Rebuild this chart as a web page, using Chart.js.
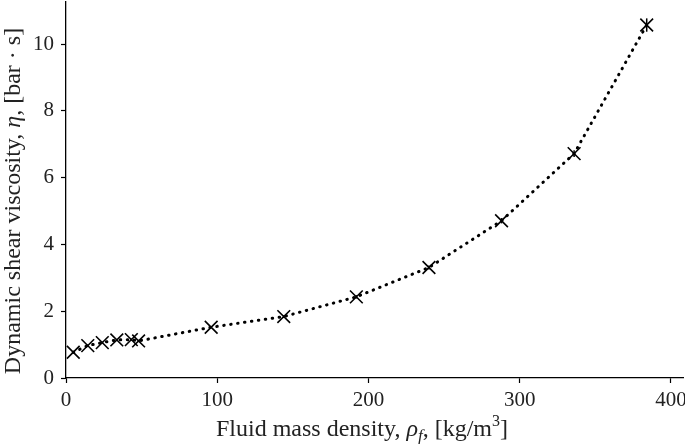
<!DOCTYPE html>
<html>
<head>
<meta charset="utf-8">
<script src="https://cdn.jsdelivr.net/npm/chart.js@4.4.1/dist/chart.umd.min.js"></script>
<style>
  html, body { margin: 0; padding: 0; background: #fff; }
  #wrap { width: 685px; height: 444px; }
</style>
</head>
<body>
<div id="wrap"><canvas id="viscChart" width="685" height="444"></canvas></div>
<script>
// fluid mass density [kg/m^3]
const density = [4.8, 14.4, 24, 33.6, 43.2, 48, 96, 144, 192, 240, 288, 336, 384];
// dynamic shear viscosity [bar*s]
const viscosity = [0.77, 0.97, 1.06, 1.14, 1.15, 1.11, 1.52, 1.84, 2.43, 3.31, 4.71, 6.72, 10.57];
// error bar half-widths
const viscErr = [0.03, 0.03, 0.03, 0.03, 0.03, 0.03, 0.03, 0.04, 0.05, 0.06, 0.08, 0.1, 0.2];

const xTicks = [0, 100, 200, 300, 400];
const yTicks = [0, 2, 4, 6, 8, 10];

const SERIF = "'Liberation Serif', 'DejaVu Serif', serif";

// draws small vertical error bars at each point
const errorBars = {
    id: "errorBars",
    afterDatasetsDraw(chart) {
        const ctx = chart.ctx;
        const xs = chart.scales.x, ys = chart.scales.y;
        ctx.save();
        ctx.strokeStyle = "#000";
        ctx.lineWidth = 1.5;
        density.forEach((d, i) => {
            const px = xs.getPixelForValue(d);
            ctx.beginPath();
            ctx.moveTo(px, ys.getPixelForValue(viscosity[i] - viscErr[i]));
            ctx.lineTo(px, ys.getPixelForValue(viscosity[i] + viscErr[i]));
            ctx.stroke();
        });
        ctx.restore();
    }
};

// axis titles with italic symbols and subscripts
function drawParts(ctx, parts, x, y) {
    let total = 0;
    parts.forEach(p => { ctx.font = p.font; total += ctx.measureText(p.t).width; });
    let cx = x - total / 2;
    parts.forEach(p => {
        ctx.font = p.font;
        ctx.fillText(p.t, cx, y + (p.dy || 0));
        cx += ctx.measureText(p.t).width;
    });
}

const axisTitles = {
    id: "axisTitles",
    afterDraw(chart) {
        const ctx = chart.ctx;
        ctx.save();
        ctx.fillStyle = "#222";
        ctx.textBaseline = "alphabetic";
        const rm = "24px " + SERIF, it = "italic 24px " + SERIF, sub = "italic 17px " + SERIF, sup = "16px " + SERIF;
        drawParts(ctx, [
            { t: "Fluid mass density, ", font: rm },
            { t: "ρ", font: it },
            { t: "f", font: sub, dy: 5 },
            { t: ", [kg/m", font: rm },
            { t: "3", font: sup, dy: -10 },
            { t: "]", font: rm }
        ], 362, 436);

        ctx.translate(20, 201);
        ctx.rotate(-Math.PI / 2);
        drawParts(ctx, [
            { t: "Dynamic shear viscosity, ", font: rm },
            { t: "η", font: it },
            { t: ", [bar · s]", font: rm }
        ], 0, 0);
        ctx.restore();
    }
};

new Chart(document.getElementById("viscChart").getContext("2d"), {
    type: "line",
    data: {
        datasets: [{
            label: "viscosity",
            data: density.map((d, i) => ({ x: d, y: viscosity[i] })),
            borderColor: "#000",
            backgroundColor: "#000",
            borderWidth: 3,
            borderDash: [0.5, 6.5],
            borderCapStyle: "round",
            tension: 0,
            pointStyle: "crossRot",
            pointRadius: 9,
            pointBorderWidth: 1.6,
            pointBorderColor: "#000",
            clip: false
        }]
    },
    options: {
        responsive: false,
        animation: false,
        layout: { autoPadding: false, padding: { top: 2, right: 2, left: 0, bottom: 0 } },
        plugins: { legend: { display: false }, tooltip: { enabled: false } },
        scales: {
            x: {
                type: "linear",
                min: 0,
                max: 408,
                afterFit: s => { s.height = 66; s.paddingLeft = 0; s.paddingRight = 0; },
                afterBuildTicks: s => { s.ticks = xTicks.map(v => ({ value: v })); },
                grid: { drawOnChartArea: false, drawTicks: true, tickLength: 5, color: "#000", tickWidth: 1.2 },
                border: { display: true, color: "#000", width: 1.3 },
                ticks: { color: "#222", font: { family: SERIF, size: 21 }, padding: 5, maxRotation: 0 }
            },
            y: {
                type: "linear",
                min: 0,
                max: 11.26,
                afterFit: s => { s.width = 66; s.paddingTop = 0; s.paddingBottom = 0; },
                afterBuildTicks: s => { s.ticks = yTicks.map(v => ({ value: v })); },
                grid: { drawOnChartArea: false, drawTicks: true, tickLength: 5, color: "#000", tickWidth: 1.2 },
                border: { display: true, color: "#000", width: 1.3 },
                ticks: { color: "#222", font: { family: SERIF, size: 21 }, padding: 7 }
            }
        }
    },
    plugins: [errorBars, axisTitles]
});
</script>
</body>
</html>
